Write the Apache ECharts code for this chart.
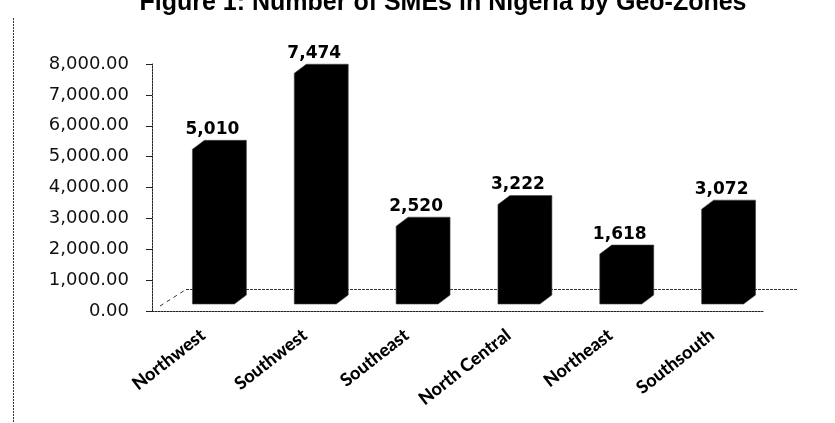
<!DOCTYPE html>
<html>
<head>
<meta charset="utf-8">
<script src="https://cdn.jsdelivr.net/npm/echarts@6/dist/echarts.min.js"></script>
<style>
  html, body { margin: 0; padding: 0; background: #fff; }
  #chart { width: 835px; height: 423px; }
</style>
</head>
<body>
<div id="chart"></div>
<script>
// data
var zones = ['Northwest', 'Southwest', 'Southeast', 'North Central', 'Northeast', 'Southsouth'];
var smeCounts = [5010, 7474, 2520, 3222, 1618, 3072];
var yTicks = [0, 1000, 2000, 3000, 4000, 5000, 6000, 7000, 8000];

var titleText = 'Figure 1: Number of SMEs in Nigeria by Geo-Zones';

// fake 3d: front face is pushed forward of the axis plane, box goes back up-right
var FRONT_X = 10.5, FRONT_Y = 7, DEPTH_X = 12, DEPTH_Y = 9;

function fmtTick(v) {
  return v.toLocaleString('en-US', { minimumFractionDigits: 2, maximumFractionDigits: 2 });
}

function renderBox(params, api) {
  var i = api.value(0);
  var base = api.coord([i, 0]);
  var top = api.coord([i, api.value(1)]);
  var half = api.size([1, 0])[0] * 0.206;
  var cx = base[0] + FRONT_X;
  var x0 = cx - half, x1 = cx + half;
  var yb = base[1] - FRONT_Y, yt = top[1] - FRONT_Y;
  return {
    type: 'group',
    children: [
      {
        type: 'polygon',
        shape: {
          points: [
            [x0, yb], [x0, yt], [x0 + DEPTH_X, yt - DEPTH_Y],
            [x1 + DEPTH_X, yt - DEPTH_Y], [x1 + DEPTH_X, yb - DEPTH_Y], [x1, yb]
          ]
        },
        style: { fill: '#000', stroke: '#444', lineWidth: 0.6 }
      },
      {
        type: 'text',
        x: cx - 1,
        y: yt - DEPTH_Y - 2,
        style: {
          text: api.value(1).toLocaleString('en-US'),
          fill: '#000',
          font: 'bold 17px "DejaVu Sans"',
          align: 'center',
          verticalAlign: 'bottom'
        }
      }
    ]
  };
}

var chart = echarts.init(document.getElementById('chart'));

var option = {
  animation: false,
  backgroundColor: '#fff',
  grid: { left: 152, right: 72, top: 64, bottom: 112 },
  xAxis: {
    type: 'category',
    data: zones,
    axisLine: { lineStyle: { color: '#222', width: 1, type: [2, 1] } },
    axisTick: { length: 4, lineStyle: { color: '#222' } },
    axisLabel: {
      rotate: 38,
      margin: 22,
      color: '#000',
      fontFamily: 'Lato',
      fontWeight: 900,
      fontSize: 18
    },
    splitLine: { show: false }
  },
  yAxis: {
    type: 'value',
    min: yTicks[0],
    max: yTicks[yTicks.length - 1],
    interval: yTicks[1] - yTicks[0],
    axisLine: { show: true, lineStyle: { color: '#222', width: 1, type: [2, 1] } },
    axisTick: { show: true, length: 6, lineStyle: { color: '#222' } },
    axisLabel: {
      margin: 23,
      color: '#111',
      fontFamily: 'DejaVu Sans',
      fontSize: 18,
      formatter: fmtTick
    },
    splitLine: { show: false }
  },
  series: [{
    type: 'custom',
    renderItem: renderBox,
    data: smeCounts.map(function (v, i) { return [i, v]; }),
    z: 3
  }]
};

chart.setOption(option);

// floor of the 3d plot, drawn from the axis positions
var p0 = chart.convertToPixel({ gridIndex: 0 }, [0, 0]);
var band = chart.convertToPixel({ gridIndex: 0 }, [1, 0])[0] - p0[0];
var floorLeft = p0[0] - band / 2;
var floorRight = floorLeft + band * zones.length;
var floorY = p0[1];
var backDX = 34, backDY = 21.5;

chart.setOption({
  graphic: [
    {
      type: 'text',
      x: 443,
      y: 3,
      style: {
        text: titleText,
        font: 'bold 25px "Liberation Sans"',
        fill: '#000',
        align: 'center',
        verticalAlign: 'middle'
      }
    },
    {
      type: 'line',
      shape: { x1: 13.5, y1: 18, x2: 13.5, y2: 423 },
      style: { stroke: '#333', lineWidth: 1, lineDash: [2, 1] }
    },
    {
      type: 'line',
      shape: { x1: floorLeft + 8, y1: floorY - 5, x2: floorLeft + backDX, y2: floorY - backDY },
      style: { stroke: '#333', lineWidth: 1, lineDash: [4, 4] },
      z: 1
    },
    {
      type: 'line',
      shape: { x1: floorLeft + backDX, y1: floorY - backDY, x2: floorRight + backDX, y2: floorY - backDY },
      style: { stroke: '#333', lineWidth: 1, lineDash: [3, 1] },
      z: 1
    }
  ]
});
</script>
</body>
</html>
